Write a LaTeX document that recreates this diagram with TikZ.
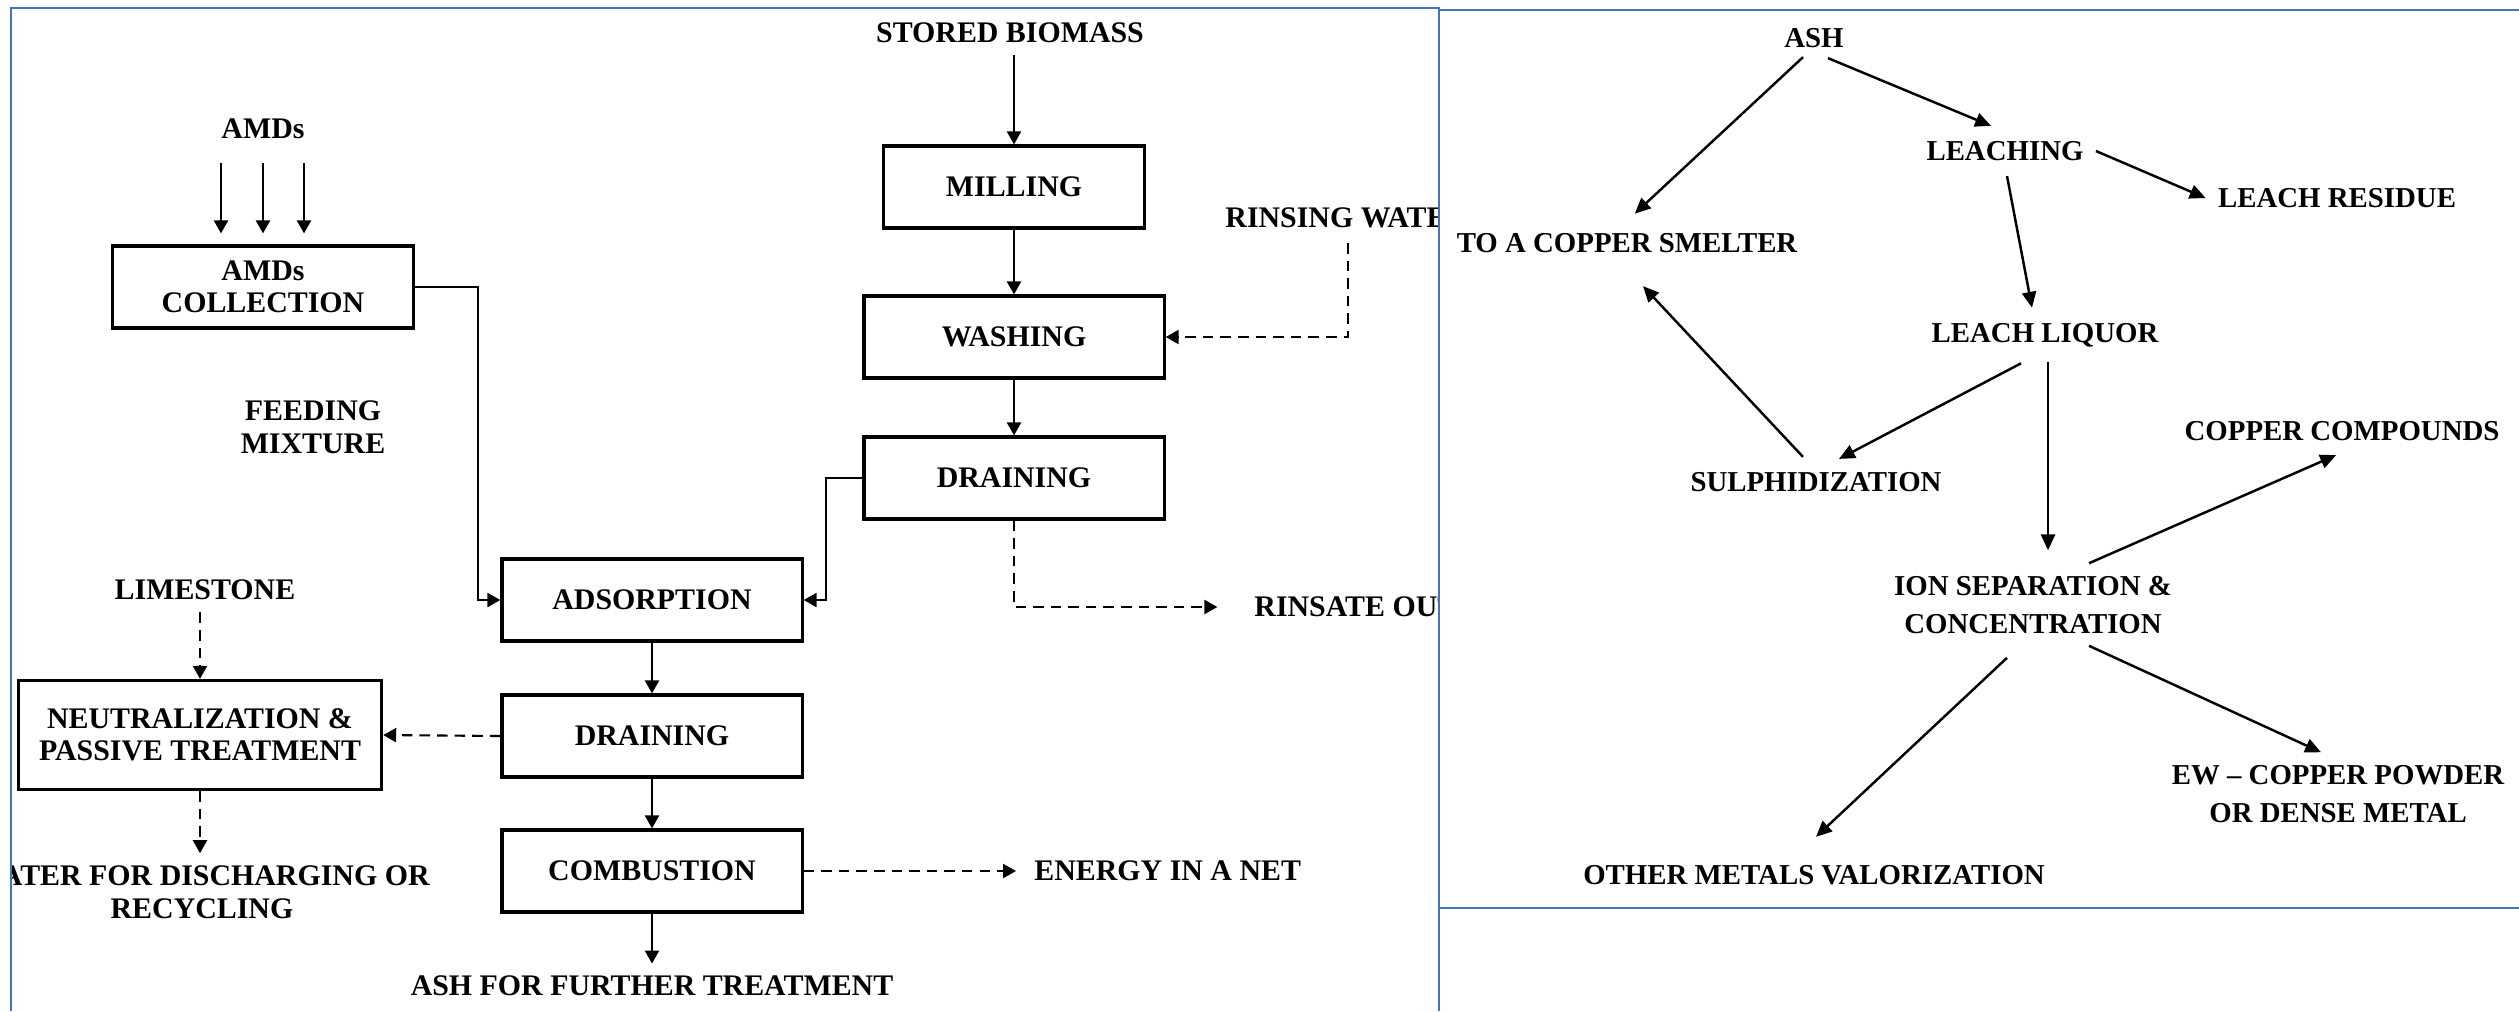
\documentclass[tikz,border=0pt]{standalone}
\usepackage{fontspec}
\setmainfont{Liberation Serif}
\usetikzlibrary{shapes,positioning,calc,arrows.meta}
\definecolor{frameBlue}{RGB}{68,114,196}

\begin{document}
\begin{tikzpicture}
  [x=0.01cm,y=-0.01cm,
   boxN/.style={draw,line width=0.9pt,minimum width=3cm,minimum height=0.82cm,inner sep=0pt,
                font=\fontsize{8.5}{9}\selectfont\bfseries,align=center},
   txtN/.style={font=\fontsize{8.5}{9.3}\selectfont\bfseries,align=center},
   resN/.style={font=\fontsize{8.2}{10.6}\selectfont\bfseries,align=center},
   flowA/.style={line width=0.6pt,-{Triangle[length=3.7pt,width=4pt]}},
   dashA/.style={flowA,dash pattern=on 3pt off 2pt},
   resA/.style={line width=0.7pt,-{Triangle[length=4.5pt,width=4pt]}},
   frameL/.style={frameBlue,line width=0.7pt},
  ]
  \useasboundingbox (0,0) rectangle (2519,1011);

  % biomass and AMDs side
  \begin{scope}
   \clip (11,8) rectangle (1439,1011);
   \node[txtN] (storeT) at (1010,33) {STORED BIOMASS};
   \node[boxN,minimum width=2.61cm] (millN) at (1014,187) {MILLING};
   \node[boxN] (washN) at (1014,337) {WASHING};
   \node[boxN] (drainN) at (1014,478) {DRAINING};
   \node[txtN,anchor=west] (rinseT) at (1213,218) {RINSING WATER};
   \node[txtN,anchor=west] (rinsOutT) at (1242,607) {RINSATE OUT};
   \coordinate (rinseC) at (1348,243);

   \node[txtN] (amdT) at (263,129) {AMDs};
   \node[boxN] (amdN) at (263,287) {AMDs\\COLLECTION};
   \node[txtN] (feedT) at (313,427) {FEEDING\\MIXTURE};
   \node[boxN] (adsN) at (652,600) {ADSORPTION};
   \node[boxN] (drainB) at (652,736) {DRAINING};
   \node[boxN] (combN) at (652,871) {COMBUSTION};
   \node[txtN] (ashFT) at (652,986) {ASH FOR FURTHER TREATMENT};
   \node[txtN,anchor=west] (energyT) at (1022,871) {ENERGY IN A NET};
   \node[txtN] (limeT) at (205,590) {LIMESTONE};
   \node[boxN,minimum width=3.63cm,minimum height=1.09cm] (neutN) at (200,735) {NEUTRALIZATION \&\\PASSIVE TREATMENT};
   \node[txtN] (waterT) at (202,892) {WATER FOR DISCHARGING OR\\RECYCLING};

   \draw[flowA] (storeT.south -| millN.north) -- (millN.north);
   \draw[flowA] (millN) -- (washN);
   \draw[flowA] (washN) -- (drainN);
   \draw[dashA] (rinseC) |- (washN.east);
   \draw[flowA] (drainN.west) -- ++(-36,0) |- (adsN.east);
   \draw[dashA,shorten >=7pt] (drainN.south) |- (rinsOutT.west);

   \foreach \dx in {-42,0,41}
     \draw[flowA] ($(amdT.south)+(\dx,12)$) -- ($(amdN.north)+(\dx,-11)$);
   \draw[flowA] (amdN.east) -- ++(63,0) |- (adsN.west);
   \draw[flowA] (adsN) -- (drainB);
   \draw[flowA] (drainB) -- (combN);
   \draw[flowA] (combN) -- (ashFT);
   \draw[dashA,shorten >=1.7pt] (combN.east) -- (energyT.west);
   \draw[dashA] (drainB.west) -- (neutN.east);
   \draw[dashA] (limeT.south -| neutN.north) -- (neutN.north);
   \draw[dashA] (neutN.south) -- (neutN.south |- waterT.north);
  \end{scope}

  % ash treatment side
  \node[resN] (ashT) at (1814,38) {ASH};
  \node[resN] (leachT) at (2005,151) {LEACHING};
  \node[resN] (resT) at (2337,198) {LEACH RESIDUE};
  \node[resN] (smeltT) at (1627,243) {TO A COPPER SMELTER};
  \node[resN] (liqT) at (2045,335) {LEACH LIQUOR};
  \node[resN] (sulT) at (1816,482) {SULPHIDIZATION};
  \node[resN] (cmpT) at (2342,431) {COPPER COMPOUNDS};
  \node[resN] (ionT) at (2033,605) {ION SEPARATION \&\\CONCENTRATION};
  \node[resN] (ewT) at (2338,794) {EW -- COPPER POWDER\\OR DENSE METAL};
  \node[resN] (othT) at (1814,875) {OTHER METALS VALORIZATION};

  \draw[resA,shorten >=3pt] ($(ashT.south)+(-11,-3)$) -- (smeltT.north);
  \draw[resA] ($(ashT.south)+(14,-2)$) -- ($(leachT.north)+(-14,-3)$);
  \draw[resA] (leachT.east) -- (resT.west);
  \draw[resA] ($(leachT.south)+(2,3)$) -- ($(liqT.north)+(-13,-3)$);
  \draw[resA] ($(liqT.south)+(-24,4)$) -- ($(sulT.north)+(23,-1)$);
  \draw[resA] ($(sulT.north)+(-13,-3)$) -- ($(smeltT.south)+(16,21)$);
  \draw[resA] ($(liqT.south)+(3,3)$) -- ($(ionT.north)+(15,-14)$);
  \draw[resA] ($(ionT.north)+(56,-1)$) -- ($(cmpT.south)+(-6,2)$);
  \draw[resA] ($(ionT.south)+(56,0)$) -- ($(ewT.north)+(-17,-1)$);
  \draw[resA] ($(ionT.south)+(-26,12)$) -- ($(othT.north)+(2,-16)$);

  % frames
  \draw[frameL] (11,1011) -- (11,8) -- (1439,8) -- (1439,1011);
  \draw[frameL] (1439,10) -- (2519,10) (1439,908) -- (2519,908);
\end{tikzpicture}
\end{document}
